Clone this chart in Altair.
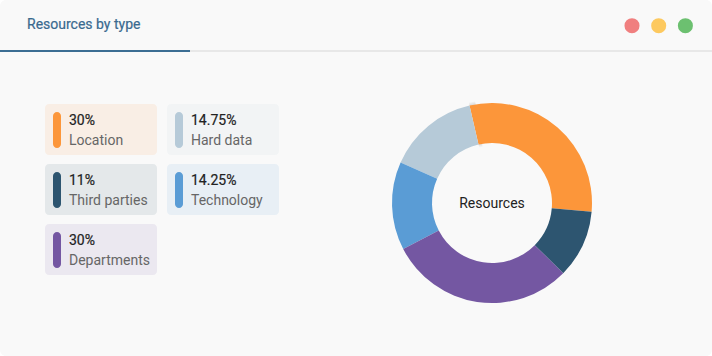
import math
import altair as alt
import pandas as pd

labels = ["Location", "Hard data", "Third parties", "Technology", "Departments"]
values = [30, 14.75, 11, 14.25, 30]
pct_labels = ["30%", "14.75%", "11%", "14.25%", "30%"]
colors = ["#FC963A", "#B6CAD8", "#2D5570", "#5A9CD5", "#7457A2"]
pie_order = [0, 4, 1, 3, 2]
title_text = "Resources by type"
center_text = "Resources"
dot_colors = ["#F07F7F", "#FDC95F", "#6CC070"]

W, H = 712, 356
df = pd.DataFrame({"label": labels, "value": values, "pct": pct_labels,
                   "color": colors, "order": pie_order, "i": list(range(len(labels)))})

xs = alt.Scale(domain=[0, W], range=[0, W])
ys = alt.Scale(domain=[0, H], range=[0, H])

one = pd.DataFrame({"k": [0], "v": [1]})

card = alt.Chart(one).mark_rect(fill="#F9F9F9", cornerRadius=6).encode(
    x=alt.value(0), x2=alt.value(W), y=alt.value(0), y2=alt.value(H))

sep = alt.Chart(one).mark_rect(fill="#E8E8E8").encode(
    x=alt.value(0), x2=alt.value(W), y=alt.value(50), y2=alt.value(52))
tab = alt.Chart(one).mark_rect(fill="#3C6E93").encode(
    x=alt.value(0), x2=alt.value(190), y=alt.value(50), y2=alt.value(52))

title = alt.Chart(pd.DataFrame({"t": [title_text]})).mark_text(
    font="Roboto", fontSize=14, color="#3A6A8F", stroke="#3A6A8F", strokeWidth=0.2,
    align="left", baseline="alphabetic").encode(
    x=alt.value(27), y=alt.value(29), text="t:N")

dots_df = pd.DataFrame({"c": dot_colors, "j": [0, 1, 2]})
dots = alt.Chart(dots_df).mark_circle(size=227, opacity=1).transform_calculate(
    dx="632 + 26.7*datum.j").encode(
    x=alt.X("dx:Q", scale=xs, axis=None), y=alt.value(25.7),
    color=alt.Color("c:N", scale=None, legend=None))

leg = alt.Chart(df).transform_calculate(
    bx="45 + 122*(datum.i % 2)", by="104 + 60*floor(datum.i / 2)",
    bx2="datum.bx + 112", by2="datum.by + 51",
    ix="datum.bx + 8", ix2="datum.bx + 16", iy="datum.by + 8", iy2="datum.by + 44",
    tx="datum.bx + 24", ty1="datum.by + 21", ty2="datum.by + 41")

boxes = leg.mark_rect(cornerRadius=4, opacity=0.1).encode(
    x=alt.X("bx:Q", scale=xs, axis=None), x2="bx2:Q",
    y=alt.Y("by:Q", scale=ys, axis=None), y2="by2:Q",
    color=alt.Color("color:N", scale=None, legend=None))
bars = leg.mark_rect(cornerRadius=4).encode(
    x=alt.X("ix:Q", scale=xs, axis=None), x2="ix2:Q",
    y=alt.Y("iy:Q", scale=ys, axis=None), y2="iy2:Q",
    color=alt.Color("color:N", scale=None, legend=None))
pct = leg.mark_text(font="Roboto", fontSize=14, color="#222222",
                    stroke="#222222", strokeWidth=0.2,
                    align="left", baseline="alphabetic").encode(
    x=alt.X("tx:Q", scale=xs, axis=None), y=alt.Y("ty1:Q", scale=ys, axis=None),
    text="pct:N")
name = leg.mark_text(font="Roboto", fontSize=14, color="#666666",
                     align="left", baseline="alphabetic").encode(
    x=alt.X("tx:Q", scale=xs, axis=None), y=alt.Y("ty2:Q", scale=ys, axis=None),
    text="label:N")

cx, cy = 492, 203
start = math.radians(-13)


def ring(r_out, r_in, op):
    return alt.Chart(one).mark_arc(color="#000000", opacity=op).encode(
        x=alt.value(cx), y=alt.value(cy),
        theta=alt.Theta("v:Q"),
        radius=alt.value(r_out), radius2=alt.value(r_in))


shadows_out = [ring(103, 98, 0.03), ring(102, 98, 0.03), ring(101, 98, 0.04)]

donut = alt.Chart(df).mark_arc().encode(
    x=alt.value(cx), y=alt.value(cy),
    theta=alt.Theta("value:Q", stack=True,
                    scale=alt.Scale(range=[start, start + 2 * math.pi])),
    order=alt.Order("order:Q"),
    radius=alt.value(100), radius2=alt.value(60),
    color=alt.Color("color:N", scale=None, legend=None))

shadows_in = [ring(60, 57, 0.03), ring(60, 58, 0.03), ring(60, 59, 0.04)]

center = alt.Chart(pd.DataFrame({"t": [center_text]})).mark_text(
    font="Roboto", fontSize=14, color="#222222", align="center", baseline="middle").encode(
    x=alt.value(cx), y=alt.value(cy + 1), text="t:N")

chart = alt.layer(card, sep, tab, title, dots, boxes, bars, pct, name,
                  *shadows_out, donut, *shadows_in, center).properties(
    width=W, height=H, background="#FFFFFF", padding=0, autosize="none"
).configure_view(stroke=None)

chart.save("out.html", embed_options={"renderer": "svg", "actions": False})
